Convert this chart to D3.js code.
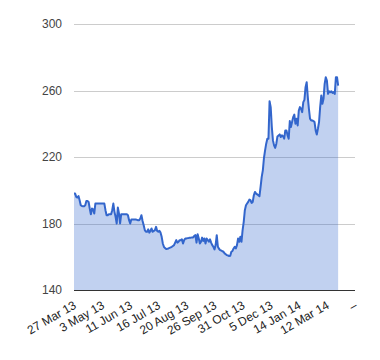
<!DOCTYPE html>
<html><head><meta charset="utf-8">
<script src="https://cdn.jsdelivr.net/npm/d3@7"></script>
<style>body{margin:0;background:#fff}svg{display:block}</style>
</head><body>
<svg id="c" width="380" height="360"></svg>
<script>
const values = [198,198,196,195.6,196.5,194,191,190.5,190.4,190.4,191,193.6,193.6,193,189,185.6,189,188.5,186,192,
192,192,192,192,192,192,192,192,188,185,185,185.6,185.6,185.6,188,192,187,184,180,189.6,
186,180,185.6,185.6,185.6,185.6,185.6,185.6,185,182,180,182.4,182.4,182.4,182.4,182.4,182.2,182,182,183,
185,181.5,179,176,175,175,176.5,174.5,175.5,177,175,175.5,176,178,175.5,175,175.6,174.5,172,168,
166,165.2,164.6,164.8,165,165.3,165.6,166,166.5,167,168.5,170,168.5,169,170,170,170.5,168,170,171,
171,171.2,171.3,171.5,171.5,171.6,171.6,172.5,173,168.5,173.6,171,168,169,171.5,169.5,171,168,171,170,
169,170.5,168.5,167,166,164.4,167,173,166,164.8,164,163.8,163.3,163,162,161.5,161,160.8,160.4,160.6,
163,163.5,165,166,165,167,171,169,172,169,176,181,188,191,192,193,194.4,194,192.4,193,
197,199,198,197.5,197,196.4,202,208,212,219.4,224,228,231,231,253.6,250,238,230,227,225.5,
228,232.4,233,233.6,232,233,232.5,231,236,236,233,231,241.6,238,241,244,245.5,240,243,239,
248,250,249,247,253,254.4,262,265,256,249,243,242,242,241.6,241,236,233.5,237,241,250,
257,252,255,264,268,266,258,259.5,259,259.5,258.5,259,258,268,268,263];
const tickIndex = [0,25,50,75,100,125,150,175,200,225,250];
const tickLabels = ["27 Mar 13","3 May 13","11 Jun 13","16 Jul 13","20 Aug 13","26 Sep 13","31 Oct 13","5 Dec 13","14 Jan 14","12 Mar 14","\u2013"];
const yTicks = [140,180,220,260,300];

const svg = d3.select("#c");
const L = 74, R = 355, T = 24, B = 290;
const x = d3.scaleLinear().domain([0,250]).range([L,R]);
const y = d3.scaleLinear().domain([140,300]).range([B,T]);
const font = "Arial, 'Liberation Sans', sans-serif";

svg.append("g").selectAll("line").data(yTicks.slice(1)).join("line")
  .attr("x1",L).attr("x2",R).attr("y1",d=>Math.round(y(d))+0.5).attr("y2",d=>Math.round(y(d))+0.5)
  .attr("stroke","#cccccc").attr("stroke-width",1);

const area = d3.area().x((d,i)=>x(i)).y0(y(140)).y1(d=>y(d));
svg.append("path").datum(values).attr("d",area).attr("fill","#3366cc").attr("fill-opacity",0.3);

const line = d3.line().x((d,i)=>x(i)).y(d=>y(d));
svg.append("path").datum(values).attr("d",line).attr("fill","none")
  .attr("stroke","#3366cc").attr("stroke-width",2).attr("stroke-linejoin","round");

svg.append("line").attr("x1",L).attr("x2",R).attr("y1",Math.round(y(140))+0.5).attr("y2",Math.round(y(140))+0.5)
  .attr("stroke","#333333").attr("stroke-width",1);

svg.append("g").selectAll("text").data(yTicks).join("text")
  .attr("x",62).attr("y",d=>y(d)).attr("dy","0.35em").attr("text-anchor","end")
  .attr("font-family",font).attr("font-size",12).attr("fill","#444444").text(d=>d);

svg.append("g").selectAll("text").data(tickIndex).join("text")
  .attr("transform",(d)=>`translate(${x(d)+1},${B+14}) rotate(-30)`)
  .attr("text-anchor","end").attr("dy","0.35em")
  .attr("font-family",font).attr("font-size",12).attr("fill","#222222")
  .text((d,i)=>tickLabels[i]);
</script>
</body></html>
